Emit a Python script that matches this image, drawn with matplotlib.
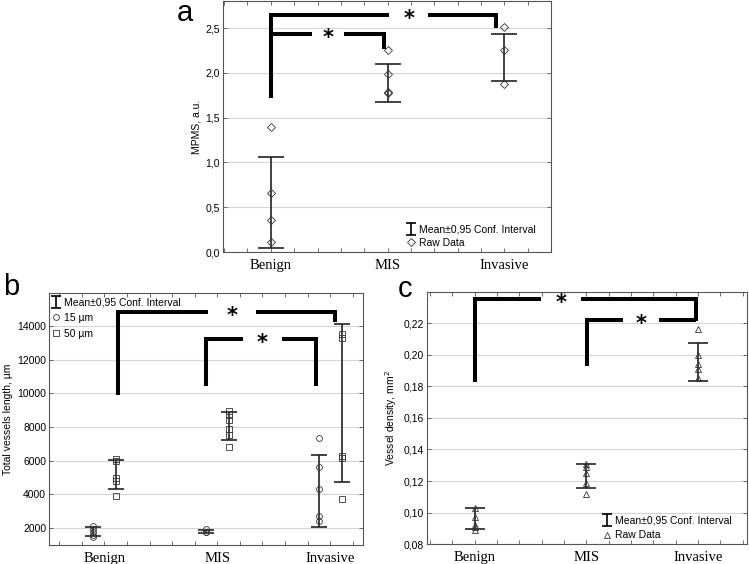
import numpy as np
import matplotlib.pyplot as plt
from matplotlib.path import Path
from matplotlib.lines import Line2D
from matplotlib.ticker import MultipleLocator, FuncFormatter

groups = ["Benign", "MIS", "Invasive"]

# panel a - MPMS
mpms_raw = [[1.40, 0.66, 0.36, 0.11], [2.26, 1.99, 1.79, 1.77], [2.51, 2.26, 1.88]]
mpms_lo = [0.05, 1.68, 1.91]
mpms_hi = [1.06, 2.10, 2.43]

# panel b - total vessels length
len15_raw = [[2100, 1950, 1800, 1600, 1450], [1950, 1800, 1750], [7350, 5650, 4350, 2700, 2450]]
len15_lo = [1560, 1700, 2080]
len15_hi = [2080, 1900, 6310]
len50_raw = [[6100, 6000, 5000, 4800, 3900], [8950, 8700, 8400, 7900, 7500, 6800],
             [13500, 13300, 6250, 6150, 3700]]
len50_lo = [4315, 7220, 4730]
len50_hi = [6035, 8900, 14110]

# panel c - vessel density
dens_raw = [[0.103, 0.097, 0.092, 0.091, 0.089], [0.131, 0.129, 0.125, 0.119, 0.112],
            [0.216, 0.200, 0.194, 0.191, 0.185]]
dens_lo = [0.0895, 0.1157, 0.1835]
dens_hi = [0.1028, 0.131, 0.2073]

# significance brackets: x_left, x_right, left foot, top, right foot, star x, gap half width
brackets_a = [(0, 1.93, 1.72, 2.65, 2.50, 1.18, 0.17), (0, 0.97, 1.72, 2.43, 2.27, 0.49, 0.14)]
brackets_b = [(0.12, 2.04, 9900, 14820, 14230, 1.13, 0.21), (0.90, 1.87, 10450, 13220, 10450, 1.40, 0.17)]
brackets_c = [(0, 1.985, 0.1824, 0.2352, 0.221, 0.77, 0.18), (1.006, 1.985, 0.1925, 0.2217, 0.2217, 1.49, 0.16)]

plt.rcParams['font.family'] = ['Liberation Sans', 'DejaVu Sans']

# I-beam marker for the CI legend entry
ibeam = Path([(-0.4, 0.5), (0.4, 0.5), (0, 0.5), (0, -0.5), (-0.4, -0.5), (0.4, -0.5)],
             [Path.MOVETO, Path.LINETO, Path.MOVETO, Path.LINETO, Path.MOVETO, Path.LINETO])

EC = '#222222'


def style_ax(ax, ylim, ymajor, fmt):
    ax.set_ylim(*ylim)
    ax.yaxis.set_major_locator(MultipleLocator(ymajor))
    ax.yaxis.set_major_formatter(FuncFormatter(fmt))
    ax.xaxis.set_minor_locator(MultipleLocator(0.2))
    ax.set_xticks([0, 1, 2])
    ax.set_xticklabels(groups, family='Liberation Serif', fontsize=10.5)
    ax.tick_params(axis='x', which='both', direction='in', top=True, length=3, width=0.6,
                   color='#555555', pad=5)
    ax.tick_params(axis='y', direction='in', right=True, length=3, width=0.6,
                   color='#555555', labelsize=7.5, pad=2)
    ax.grid(axis='y', color='#d4d4d4', lw=0.8)
    ax.set_axisbelow(True)
    for s in ax.spines.values():
        s.set_color('#555555')
        s.set_linewidth(0.8)


def draw_ci(ax, xs, lo, hi, cap):
    lo = np.array(lo)
    hi = np.array(hi)
    mid = (lo + hi) / 2
    ax.errorbar(xs, mid, yerr=[mid - lo, hi - mid], fmt='none', ecolor=EC,
                elinewidth=1.2, capsize=cap, capthick=1.2, zorder=3)


def draw_raw(ax, xs, raw, marker, ms):
    for x, vals in zip(xs, raw):
        ax.plot([x] * len(vals), vals, ls='none', marker=marker, ms=ms, mfc='none',
                mec='#333333', mew=0.6, zorder=4)


def draw_brackets(ax, brackets):
    for xl, xr, yl, yt, yr, xs, gh in brackets:
        kw = dict(color='black', lw=2.9, solid_capstyle='butt', solid_joinstyle='miter', zorder=5)
        ax.plot([xl, xl, xs - gh], [yl, yt, yt], **kw)
        ax.plot([xs + gh, xr, xr], [yt, yt, yr], **kw)
        ax.annotate('*', (xs, yt), xytext=(0, -3), textcoords='offset points', ha='center',
                    va='center', fontsize=15, fontweight='bold', family='DejaVu Sans', zorder=6)


def comma(d):
    return lambda v, p: f"{v:.{d}f}".replace('.', ',')


def legend_handles(markers):
    h = [Line2D([], [], ls='none', marker=ibeam, ms=8.5, mec='black', mew=1.2)]
    for m, ms in markers:
        h.append(Line2D([], [], ls='none', marker=m, ms=ms, mfc='none', mec='#333333', mew=0.6))
    return h


fig = plt.figure(figsize=(7.49, 5.64), dpi=100)

# ---- a
ax = fig.add_axes([0.2977, 0.553, 0.4379, 0.445])
style_ax(ax, (0, 2.8), 0.5, comma(1))
ax.set_xlim(-0.41, 2.4)
draw_ci(ax, [0, 1, 2], mpms_lo, mpms_hi, 9.5)
draw_raw(ax, [0, 1, 2], mpms_raw, 'D', 3.6)
draw_brackets(ax, brackets_a)
ax.set_ylabel('MPMS, a.u.', fontsize=7.5, labelpad=3)
ax.legend(legend_handles([('D', 3.6)]), ['Mean\u00b10,95 Conf. Interval', 'Raw Data'],
          loc='lower right', bbox_to_anchor=(0.967, 0.0), frameon=False, fontsize=7.5,
          handlelength=0.8, handletextpad=0.4, labelspacing=0.35, borderaxespad=0)

# ---- b
ax = fig.add_axes([0.0654, 0.0337, 0.4192, 0.4468])
style_ax(ax, (1000, 15950), 2000, lambda v, p: f"{v:.0f}")
ax.set_xlim(-0.49, 2.29)
xs15 = [-0.1, 0.9, 1.9]
xs50 = [0.1, 1.1, 2.1]
draw_ci(ax, xs15, len15_lo, len15_hi, 5.5)
draw_ci(ax, xs50, len50_lo, len50_hi, 5.5)
draw_raw(ax, xs15, len15_raw, 'o', 4.2)
draw_raw(ax, xs50, len50_raw, 's', 4.0)
draw_brackets(ax, brackets_b)
ax.set_ylabel('Total vessels length, \u00b5m', fontsize=7.5, labelpad=3)
ax.legend(legend_handles([('o', 4.2), ('s', 4.0)]),
          ['Mean\u00b10,95 Conf. Interval', '15 \u00b5m', '50 \u00b5m'],
          loc='upper left', bbox_to_anchor=(-0.005, 1.0), frameon=False, fontsize=7.5,
          handlelength=0.8, handletextpad=0.4, labelspacing=0.55, borderaxespad=0)

# ---- c
ax = fig.add_axes([0.5697, 0.0349, 0.4276, 0.4479])
style_ax(ax, (0.08, 0.2398), 0.02, comma(2))
ax.set_xlim(-0.43, 2.44)
draw_ci(ax, [0, 1, 2], dens_lo, dens_hi, 7)
draw_raw(ax, [0, 1, 2], dens_raw, '^', 4.0)
draw_brackets(ax, brackets_c)
ax.set_ylabel('Vessel density, mm$^2$', fontsize=7.5, labelpad=3)
ax.legend(legend_handles([('^', 4.0)]), ['Mean\u00b10,95 Conf. Interval', 'Raw Data'],
          loc='lower right', bbox_to_anchor=(0.965, 0.0), frameon=False, fontsize=7.5,
          handlelength=0.8, handletextpad=0.4, labelspacing=0.45, borderaxespad=0)

# panel letters
fig.text(185 / 749, 1 - 13 / 564, 'a', fontsize=21, ha='center', va='center')
fig.text(11 / 749, 1 - 287 / 564, 'b', fontsize=21, ha='center', va='center')
fig.text(405 / 749, 1 - 289 / 564, 'c', fontsize=21, ha='center', va='center')

fig.savefig('out.png', dpi=100)
